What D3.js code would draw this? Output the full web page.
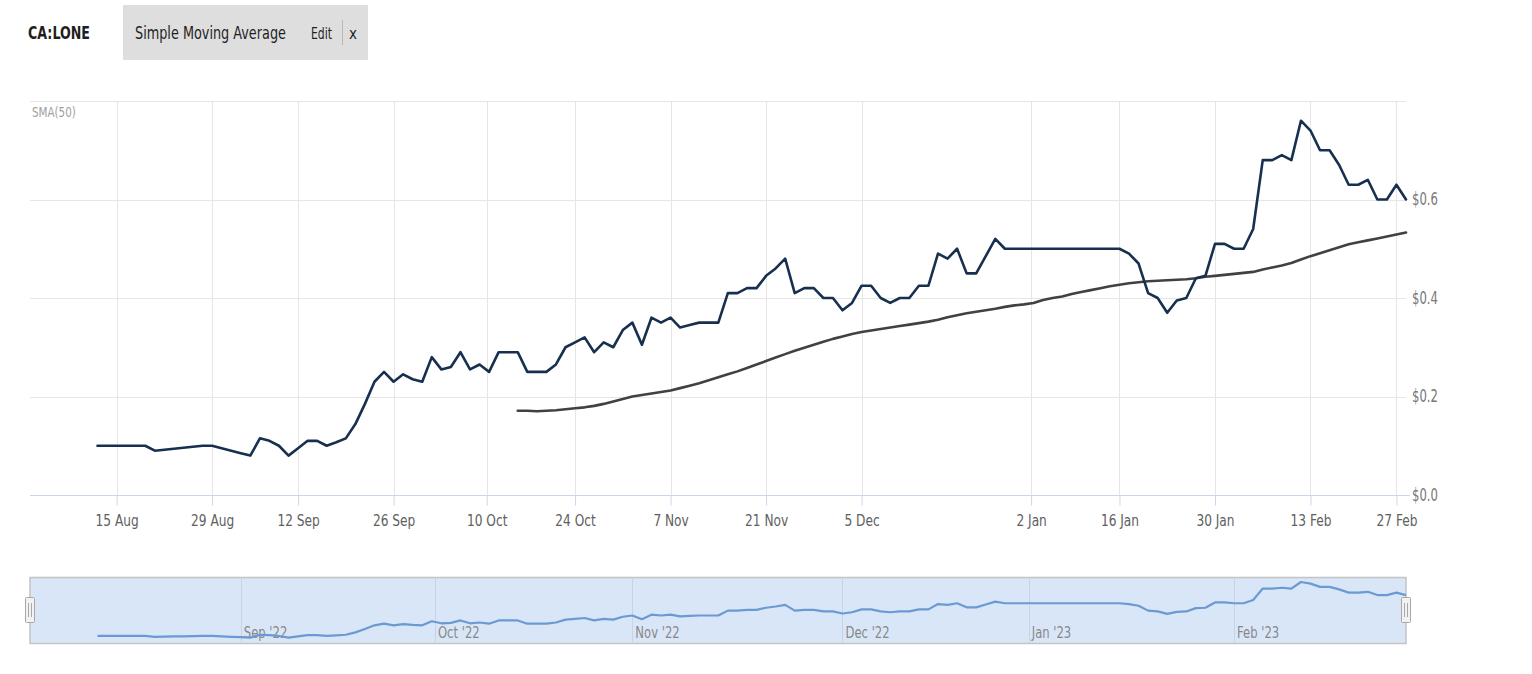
<!DOCTYPE html>
<html>
<head>
<meta charset="utf-8">
<script src="https://cdn.jsdelivr.net/npm/d3@7"></script>
<style>
  html, body { margin: 0; padding: 0; background: #ffffff; }
  svg { display: block; font-family: "DejaVu Sans Condensed", "Liberation Sans Narrow", sans-serif; }
</style>
</head>
<body>
<svg id="chart" width="1532" height="674"></svg>
<script>
// ---------------- DATA ----------------
const symbol = "CA:LONE";
const indicatorName = "Simple Moving Average";
const indicatorLabel = "SMA(50)";

// trading days shown (ordinal axis)
const dates = [
  "2022-08-11","2022-08-12",
  "2022-08-15","2022-08-16","2022-08-17","2022-08-18","2022-08-19",
  "2022-08-22","2022-08-23","2022-08-24","2022-08-25","2022-08-26",
  "2022-08-29","2022-08-30","2022-08-31","2022-09-01","2022-09-02",
  "2022-09-06","2022-09-07","2022-09-08","2022-09-09",
  "2022-09-12","2022-09-13","2022-09-14","2022-09-15","2022-09-16",
  "2022-09-19","2022-09-20","2022-09-21","2022-09-22","2022-09-23",
  "2022-09-26","2022-09-27","2022-09-28","2022-09-29","2022-09-30",
  "2022-10-03","2022-10-04","2022-10-05","2022-10-06","2022-10-07",
  "2022-10-11","2022-10-12","2022-10-13","2022-10-14",
  "2022-10-17","2022-10-18","2022-10-19","2022-10-20","2022-10-21",
  "2022-10-24","2022-10-25","2022-10-26","2022-10-27","2022-10-28",
  "2022-10-31","2022-11-01","2022-11-02","2022-11-03","2022-11-04",
  "2022-11-07","2022-11-08","2022-11-09","2022-11-10","2022-11-11",
  "2022-11-14","2022-11-15","2022-11-16","2022-11-17","2022-11-18",
  "2022-11-21","2022-11-22","2022-11-23","2022-11-24","2022-11-25",
  "2022-11-28","2022-11-29","2022-11-30","2022-12-01","2022-12-02",
  "2022-12-05","2022-12-06","2022-12-07","2022-12-08","2022-12-09",
  "2022-12-12","2022-12-13","2022-12-14","2022-12-15","2022-12-16",
  "2022-12-19","2022-12-20","2022-12-21","2022-12-22","2022-12-23",
  "2022-12-28","2022-12-29","2022-12-30",
  "2023-01-03","2023-01-04","2023-01-05","2023-01-06",
  "2023-01-09","2023-01-10","2023-01-11","2023-01-12","2023-01-13",
  "2023-01-16","2023-01-17","2023-01-18","2023-01-19","2023-01-20",
  "2023-01-23","2023-01-24","2023-01-25","2023-01-26","2023-01-27",
  "2023-01-30","2023-01-31","2023-02-01","2023-02-02","2023-02-03",
  "2023-02-06","2023-02-07","2023-02-08","2023-02-09","2023-02-10",
  "2023-02-13","2023-02-14","2023-02-15","2023-02-16","2023-02-17",
  "2023-02-21","2023-02-22","2023-02-23","2023-02-24",
  "2023-02-27","2023-02-28"
];

// closing price, one per trading day
const prices = [
  0.10,0.10,
  0.10,0.10,0.10,0.10,0.09,
  0.092,0.094,0.096,0.098,0.10,
  0.10,0.095,0.09,0.085,0.08,
  0.115,0.11,0.10,0.08,
  0.095,0.11,0.11,0.10,0.107,
  0.115,0.144,0.185,0.23,0.25,
  0.23,0.245,0.235,0.23,0.28,
  0.255,0.26,0.29,0.255,0.265,
  0.25,0.29,0.29,0.29,
  0.25,0.25,0.25,0.265,0.30,
  0.31,0.32,0.29,0.31,0.30,
  0.335,0.35,0.305,0.36,0.35,
  0.36,0.34,0.345,0.35,0.35,
  0.35,0.41,0.41,0.42,0.42,
  0.445,0.46,0.48,0.41,0.42,
  0.42,0.40,0.40,0.375,0.39,
  0.425,0.425,0.40,0.39,0.40,
  0.40,0.425,0.425,0.49,0.48,
  0.50,0.45,0.45,0.485,0.52,
  0.50,0.50,0.50,
  0.50,0.50,0.50,0.50,
  0.50,0.50,0.50,0.50,0.50,
  0.50,0.49,0.47,0.41,0.40,
  0.37,0.395,0.40,0.44,0.445,
  0.51,0.51,0.50,0.50,0.54,
  0.68,0.68,0.69,0.68,0.76,
  0.74,0.70,0.70,0.67,0.63,
  0.63,0.64,0.60,0.60,
  0.63,0.60
];

// SMA(50) values, starting at smaStart
const smaStart = "2022-10-14";
const smaValues = [
  0.171,
  0.171,0.170,0.171,0.172,0.174,
  0.176,0.178,0.181,0.185,0.190,
  0.195,0.200,0.203,0.206,0.209,
  0.212,0.217,0.222,0.227,0.233,
  0.239,0.245,0.251,0.258,0.265,
  0.272,0.279,0.286,0.293,0.299,
  0.305,0.311,0.317,0.322,0.327,
  0.331,0.334,0.337,0.340,0.343,
  0.346,0.349,0.352,0.356,0.361,
  0.365,0.369,0.372,0.375,0.378,
  0.382,0.385,0.387,
  0.390,0.396,0.400,0.403,
  0.408,0.412,0.416,0.420,0.424,
  0.427,0.430,0.432,0.434,0.435,
  0.436,0.437,0.438,0.440,0.443,
  0.445,0.447,0.449,0.451,0.453,
  0.458,0.462,0.466,0.471,0.478,
  0.485,0.491,0.497,0.503,0.509,
  0.513,0.517,0.521,0.525,
  0.529,0.533
];

const xTickDates = ["2022-08-15","2022-08-29","2022-09-12","2022-09-26","2022-10-10","2022-10-24",
  "2022-11-07","2022-11-21","2022-12-05","2023-01-02","2023-01-16","2023-01-30","2023-02-13","2023-02-27"];
const xTickLabels = ["15 Aug","29 Aug","12 Sep","26 Sep","10 Oct","24 Oct","7 Nov","21 Nov","5 Dec",
  "2 Jan","16 Jan","30 Jan","13 Feb","27 Feb"];
const yTicks = [0, 0.2, 0.4, 0.6];
const yGrid = [0.2, 0.4, 0.6, 0.8];
const navTickDates = ["2022-09-01","2022-10-01","2022-11-01","2022-12-01","2023-01-01","2023-02-01"];
const navTickLabels = ["Sep '22","Oct '22","Nov '22","Dec '22","Jan '23","Feb '23"];

// ---------------- CHART ----------------
const svg = d3.select("#chart");
const parse = d3.utcParse("%Y-%m-%d");
const dateObjs = dates.map(parse);

// ordinal position of any date (interpolated between trading days)
function dateIndex(ds) {
  const d = parse(ds);
  const i = d3.bisector(v => v).right(dateObjs, d) - 1;
  if (i < 0) return 0;
  if (i >= dateObjs.length - 1) return dateObjs.length - 1;
  const a = dateObjs[i], b = dateObjs[i + 1];
  return i + (d - a) / (b - a);
}

// squeeze a text horizontally to imitate a condensed face
function squeeze(sel, factor) {
  sel.each(function () {
    const w = this.getComputedTextLength();
    d3.select(this).attr("textLength", w * factor).attr("lengthAdjust", "spacingAndGlyphs");
  });
}
// condensed text placed with a transform so its box is the squeezed one
function condText(px, py, size, width, str, opts = {}) {
  const t = svg.append("text").attr("x", 0).attr("y", 0)
    .attr("font-size", size).attr("fill", opts.fill || "#1e1e1e")
    .attr("font-weight", opts.weight || "normal").text(str);
  const w = t.node().getComputedTextLength();
  t.attr("transform", `translate(${px},${py}) scale(${width / w},1)`);
  return t;
}

const plotLeft = 30, plotRight = 1406, plotTop = 101, plotBottom = 495;
const x = d3.scaleLinear().domain([0, dates.length - 1]).range([97.5, 1406]);
const y = d3.scaleLinear().domain([0, 0.8]).range([plotBottom, plotTop]);

// header
condText(28, 39, 17, 62, symbol, { weight: "bold" });
svg.append("rect").attr("x", 123).attr("y", 5).attr("width", 245).attr("height", 55)
  .attr("fill", "#dedede");
condText(135, 39, 17, 151, indicatorName);
condText(311, 39, 16, 21, "Edit");
svg.append("line").attr("x1", 342.5).attr("x2", 342.5).attr("y1", 20).attr("y2", 45)
  .attr("stroke", "#b8b8b8");
condText(349, 39, 15, 8, "x");

// gridlines
const g = svg.append("g");
g.selectAll("line.hg").data(yGrid).join("line")
  .attr("x1", plotLeft).attr("x2", plotRight)
  .attr("y1", d => Math.round(y(d)) + 0.5).attr("y2", d => Math.round(y(d)) + 0.5)
  .attr("stroke", "#e6e6e6").attr("stroke-width", 1);
const tickIdx = xTickDates.map(dateIndex);
g.selectAll("line.vg").data(tickIdx).join("line")
  .attr("x1", d => Math.round(x(d)) + 0.5).attr("x2", d => Math.round(x(d)) + 0.5)
  .attr("y1", plotTop).attr("y2", plotBottom)
  .attr("stroke", "#e6e6e6").attr("stroke-width", 1);

// x axis
const xAxis = d3.axisBottom(x).tickValues(tickIdx)
  .tickFormat((d, i) => xTickLabels[i]).tickSize(10).tickPadding(9).tickSizeOuter(0);
const xg = svg.append("g").attr("transform", `translate(0,${plotBottom + 0.5})`).call(xAxis);
xg.select(".domain").remove();
xg.append("line").attr("x1", plotLeft).attr("x2", plotRight + 4).attr("y1", 0).attr("y2", 0)
  .attr("stroke", "#ccd6eb");
xg.selectAll(".tick line").attr("stroke", "#ccd6eb");
xg.selectAll(".tick text").attr("fill", "#606060").attr("font-size", 16.5)
  .attr("font-family", "'DejaVu Sans Condensed', sans-serif");
squeeze(xg.selectAll(".tick text"), 0.82);

// y axis (right)
const yAxis = d3.axisRight(y).tickValues(yTicks).tickFormat(d => "$" + d.toFixed(1))
  .tickSize(0).tickPadding(6);
const yg = svg.append("g").attr("transform", `translate(${plotRight},0)`).call(yAxis);
yg.select(".domain").remove();
yg.selectAll(".tick text").attr("fill", "#777").attr("font-size", 17)
  .attr("font-family", "'DejaVu Sans Condensed', sans-serif");
squeeze(yg.selectAll(".tick text"), 0.76);

// indicator label
squeeze(svg.append("text").attr("x", 32).attr("y", 117).attr("font-size", 14).attr("fill", "#a0a0a0")
  .text(indicatorLabel), 0.82);

// SMA line
const s0 = dates.indexOf(smaStart);
const smaLine = d3.line().x((d, i) => x(s0 + i)).y(d => y(d));
svg.append("path").datum(smaValues).attr("d", smaLine)
  .attr("fill", "none").attr("stroke", "#414141").attr("stroke-width", 2.6)
  .attr("stroke-linejoin", "round").attr("stroke-linecap", "round");

// price line
const priceLine = d3.line().x((d, i) => x(i)).y(d => y(d));
svg.append("path").datum(prices).attr("d", priceLine)
  .attr("fill", "none").attr("stroke", "#17304f").attr("stroke-width", 2.6)
  .attr("stroke-linejoin", "round").attr("stroke-linecap", "round");

// ---------------- NAVIGATOR ----------------
const navTop = 577.5, navBottom = 643.5;
const yNav = d3.scaleLinear().domain([0.08, 0.76]).range([637.6, 582]);
const nav = svg.append("g");
nav.append("rect").attr("x", plotLeft).attr("y", navTop)
  .attr("width", plotRight - plotLeft).attr("height", navBottom - navTop)
  .attr("fill", "#d9e6f7").attr("stroke", "#c4c4c4").attr("stroke-width", 1.5);
const navIdx = navTickDates.map(dateIndex);
nav.selectAll("line.ng").data(navIdx).join("line")
  .attr("x1", d => Math.round(x(d)) + 0.5).attr("x2", d => Math.round(x(d)) + 0.5)
  .attr("y1", navTop + 1).attr("y2", navBottom - 1)
  .attr("stroke", "#c7d4e6").attr("stroke-width", 1);
const navLabels = nav.selectAll("text.nl").data(navIdx).join("text")
  .attr("x", d => x(d) + 3).attr("y", 638)
  .attr("font-size", 15).attr("fill", "#888")
  .text((d, i) => navTickLabels[i]);
squeeze(navLabels, 0.86);
const navLine = d3.line().x((d, i) => x(i)).y(d => yNav(d));
nav.append("path").datum(prices).attr("d", navLine)
  .attr("fill", "none").attr("stroke", "#6b9ad2").attr("stroke-width", 2.2)
  .attr("stroke-linejoin", "round");

// handles
[plotLeft, plotRight].forEach(hx => {
  const hg = nav.append("g").attr("transform", `translate(${hx},610)`);
  hg.append("rect").attr("x", -4.5).attr("y", -12.5).attr("width", 9).attr("height", 25)
    .attr("rx", 1).attr("fill", "#f2f2f2").attr("stroke", "#a8a8a8");
  [-1.5, 1.5].forEach(dx => hg.append("line")
    .attr("x1", dx).attr("x2", dx).attr("y1", -7).attr("y2", 7)
    .attr("stroke", "#a8a8a8"));
});
</script>
</body>
</html>
